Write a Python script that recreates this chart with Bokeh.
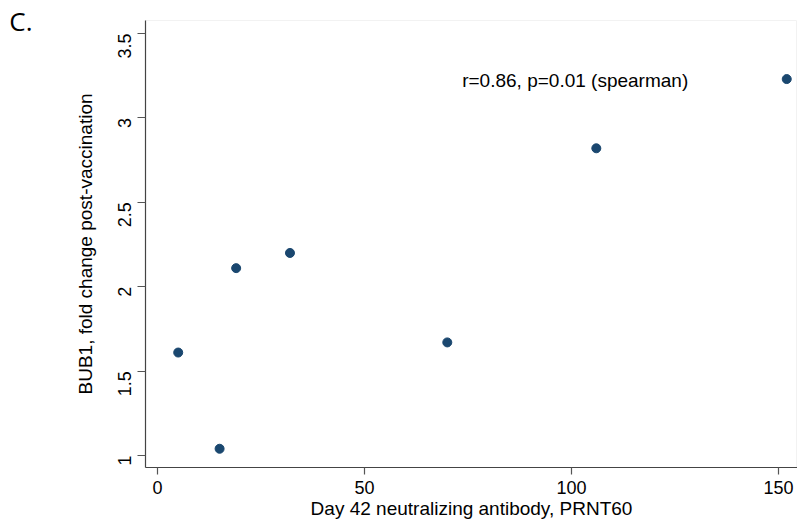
import math
from bokeh.plotting import figure
from bokeh.models import Label, ColumnDataSource, FixedTicker, LinearAxis
from bokeh.embed import file_html
from bokeh.resources import INLINE

# data
prnt60 = [5, 15, 19, 32, 70, 106, 152]
bub1_fold = [1.61, 1.04, 2.11, 2.20, 1.67, 2.82, 3.23]
x_ticks = [0, 50, 100, 150]
y_ticks = [1, 1.5, 2, 2.5, 3, 3.5]
y_tick_labels = ["1", "1.5", "2", "2.5", "3", "3.5"]
annotation = "r=0.86, p=0.01 (spearman)"
panel_label = "C."

FONT = "Liberation Sans"
FS_TICK = "18px"
FS_LAB = "19px"
NAVY = "#1a476f"

p = figure(width=797, height=526, output_backend="svg", toolbar_location=None,
           x_range=(-2.9, 154.6), y_range=(0.929, 3.577),
           min_border_left=145, min_border_right=0, min_border_top=20, min_border_bottom=59)
p.background_fill_color = "white"
p.border_fill_color = "white"
p.outline_line_color = "#f2f2f2"
p.xgrid.visible = False
p.ygrid.visible = False

src = ColumnDataSource(dict(x=prnt60, y=bub1_fold))
p.scatter("x", "y", source=src, size=9, fill_color=NAVY, line_color=NAVY)

for ax in (p.xaxis[0], p.yaxis[0]):
    ax.axis_line_color = "#444444"
    ax.axis_line_width = 1.2
    ax.major_tick_line_color = "#555555"
    ax.major_tick_line_width = 1.2
    ax.minor_tick_line_color = None
    ax.major_tick_in = 0
    ax.major_label_text_font = FONT
    ax.major_label_text_font_size = FS_TICK
    ax.major_label_text_color = "black"
    ax.axis_label_text_font = FONT
    ax.axis_label_text_font_size = FS_LAB
    ax.axis_label_text_font_style = "normal"
    ax.axis_label_text_color = "black"

p.xaxis.ticker = FixedTicker(ticks=x_ticks)
p.xaxis.major_tick_out = 7
p.xaxis.major_label_standoff = 6
p.xaxis.axis_label = "Day 42 neutralizing antibody, PRNT60"
p.xaxis.axis_label_standoff = 1

p.yaxis.ticker = FixedTicker(ticks=y_ticks)
p.yaxis.major_label_overrides = {t: s for t, s in zip(y_ticks, y_tick_labels)}
p.yaxis.major_label_orientation = math.pi / 2
p.yaxis.major_tick_out = 8
p.yaxis.major_label_standoff = 13
p.yaxis.axis_label = "BUB1, fold change post-vaccination"
p.yaxis.axis_label_standoff = 13

# panel letter, carried by an outer, line-less left axis with a single labelled tick
panel_pos = 3.574
panel_axis = LinearAxis(ticker=FixedTicker(ticks=[panel_pos]),
                        major_label_overrides={panel_pos: panel_label},
                        major_label_orientation="horizontal",
                        axis_line_color=None, major_tick_line_color=None,
                        minor_tick_line_color=None, major_tick_out=0, major_tick_in=0,
                        major_label_standoff=39,
                        major_label_text_font="Open Sans", major_label_text_font_size="26px",
                        major_label_text_color="black")
p.add_layout(panel_axis, "left")

p.add_layout(Label(x=73.6, y=3.22, text=annotation, text_font=FONT, text_font_size=FS_LAB,
                   text_baseline="middle", text_align="left", text_color="black"))

open("out.html", "w").write(file_html(p, INLINE))
